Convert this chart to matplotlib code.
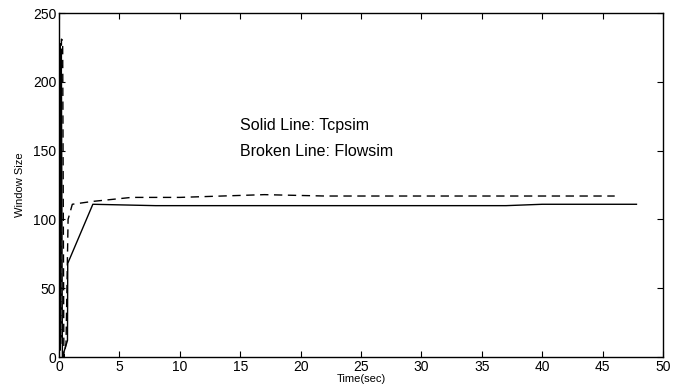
import matplotlib
matplotlib.use('Agg')
import matplotlib.pyplot as plt

plt.rcParams['font.family'] = ['Liberation Sans', 'DejaVu Sans']

# Tcpsim (solid)
tcp_t = [0.0, 0.05, 0.1, 0.15, 0.2, 0.28, 0.7, 0.72, 2.8, 8.0, 20.0, 37.0, 40.0, 47.8]
tcp_w = [0, 225, 5, 224, 200, 0, 12, 68, 111, 110, 110, 110, 111, 111]

# Flowsim (broken)
flow_t = [0.0, 0.1, 0.15, 0.2, 0.3, 0.4, 0.58, 0.75, 1.1, 2.7, 6.0, 10.0, 17.0, 22.0, 46.0]
flow_w = [0, 230, 10, 231, 230, 0, 10, 100, 111, 113, 116, 116, 118, 117, 117]

fig = plt.figure(figsize=(6.73, 3.85), dpi=100)
ax = fig.add_axes([0.0877, 0.0727, 0.8975, 0.8935])

ax.plot(tcp_t, tcp_w, color='black', linewidth=1.0)
ax.plot(flow_t, flow_w, color='black', linewidth=1.0, linestyle=(0, (6, 4)))

ax.set_xlim(0, 50)
ax.set_ylim(0, 250)
ax.set_xticks(range(0, 51, 5))
ax.set_yticks(range(0, 251, 50))
ax.tick_params(direction='in', top=True, right=True, labelsize=10, length=4, width=0.8, pad=2)
for s in ax.spines.values():
    s.set_linewidth(1.0)

ax.set_xlabel('Time(sec)', fontsize=8, labelpad=0)
ax.set_ylabel('Window Size', fontsize=8, labelpad=6)

ax.text(15.0, 168.5, 'Solid Line: Tcpsim', fontsize=11.5, va='center', ha='left')
ax.text(15.0, 149, 'Broken Line: Flowsim', fontsize=11.5, va='center', ha='left')

fig.savefig('out.png', dpi=100)
